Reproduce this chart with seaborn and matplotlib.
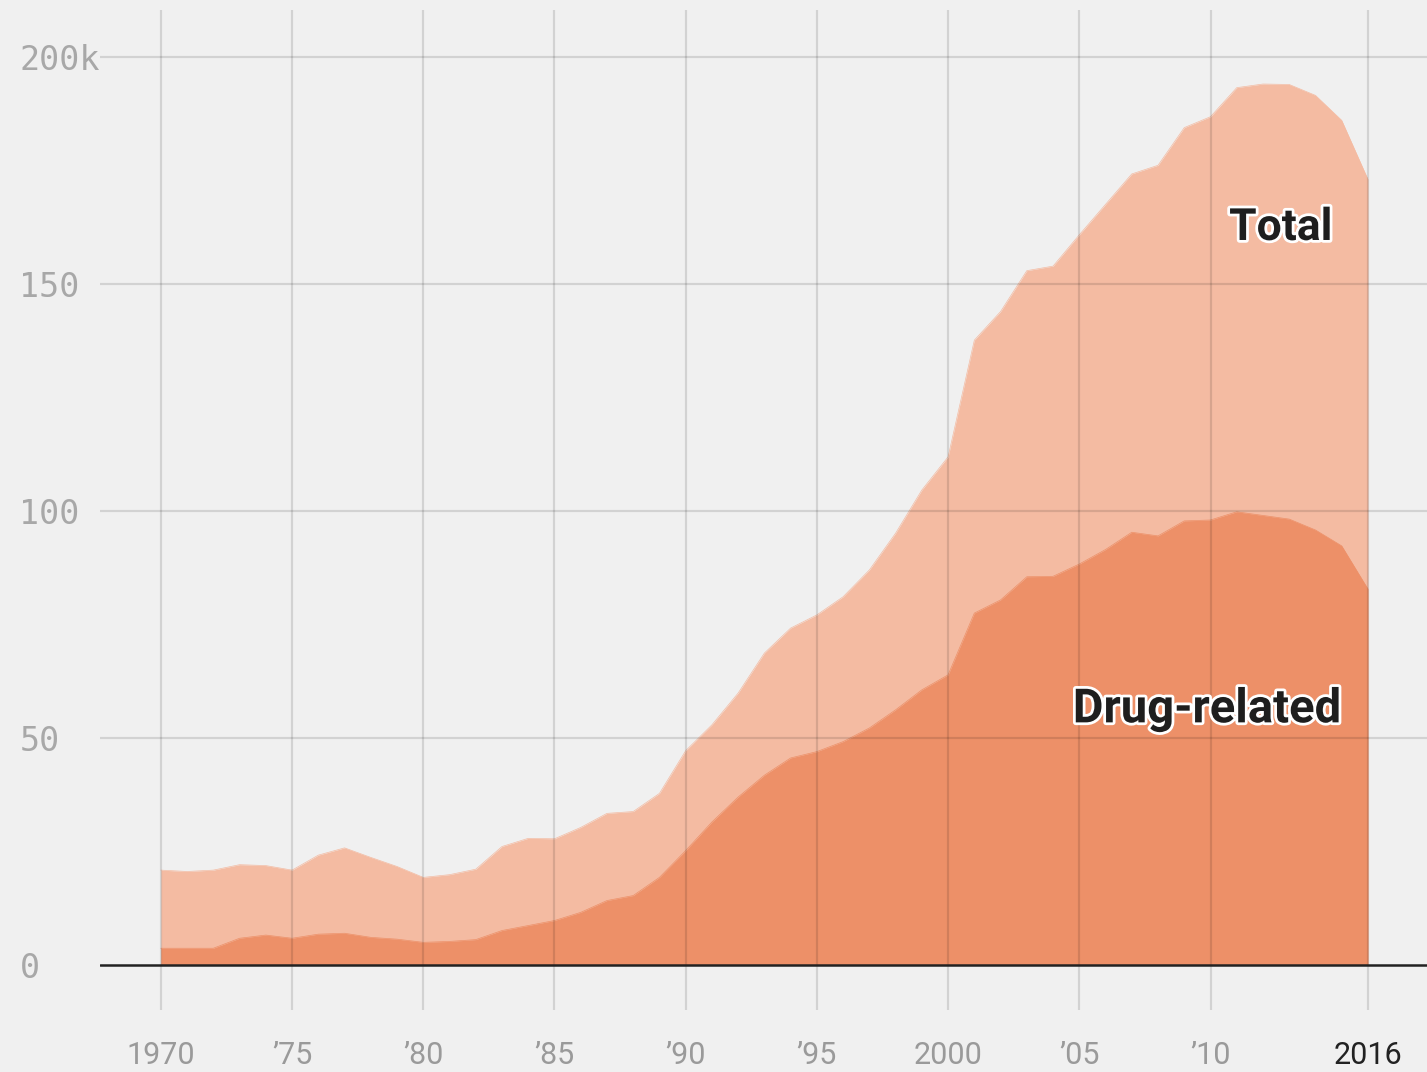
import matplotlib
matplotlib.use("Agg")
import matplotlib.pyplot as plt
import matplotlib.patheffects as pe
import seaborn as sns
import pandas as pd

years = list(range(1970, 2017))
total = [20.9, 20.6, 20.9, 22.1, 21.9, 20.9, 24.2, 25.8, 23.7, 21.7,
         19.3, 19.9, 21.1, 26.1, 27.9, 27.8, 30.3, 33.4, 33.8, 37.8,
         47.2, 52.9, 59.9, 68.7, 74.2, 77.1, 81.1, 87.0, 95.1, 104.6,
         111.9, 137.6, 143.9, 152.9, 153.9, 160.8, 167.5, 174.2, 176.1, 184.4,
         186.8, 193.2, 194.0, 193.9, 191.5, 186.0, 173.0]
drug = [3.7, 3.7, 3.7, 5.9, 6.6, 5.9, 6.8, 7.0, 6.1, 5.7,
        5.0, 5.2, 5.6, 7.6, 8.7, 9.8, 11.6, 14.2, 15.3, 19.3,
        25.2, 31.5, 37.0, 41.8, 45.6, 47.0, 49.2, 52.2, 56.2, 60.6,
        63.9, 77.5, 80.4, 85.5, 85.6, 88.3, 91.5, 95.3, 94.5, 97.8,
        98.0, 99.8, 99.0, 98.2, 95.8, 92.3, 82.8]

xticks = [1970, 1975, 1980, 1985, 1990, 1995, 2000, 2005, 2010, 2016]
xticklabels = ["1970", "\u201975", "\u201980", "\u201985", "\u201990", "\u201995",
               "2000", "\u201905", "\u201910", "2016"]
yticks = [0, 50, 100, 150, 200]
yticklabels = ["0", "50", "100", "150", "200k"]

BG = "#f0f0f0"
C_TOTAL = "#f4bba2"
C_DRUG = "#ed9068"

sns.set_theme(style="white")
plt.rcParams["font.family"] = ["DejaVu Sans"]

df = pd.DataFrame({"year": years, "total": total, "drug": drug})

fig = plt.figure(figsize=(14.27, 10.72), dpi=100, facecolor=BG)
ax = fig.add_axes([100 / 1427, 62 / 1072, 1327 / 1427, 1000 / 1072])
ax.set_facecolor(BG)

ax.fill_between(df["year"], 0, df["total"], color=C_TOTAL, lw=0, zorder=1)
ax.fill_between(df["year"], 0, df["drug"], color=C_DRUG, lw=0, zorder=2)
sns.lineplot(data=df, x="year", y="total", color=C_TOTAL, lw=0.5, ax=ax, zorder=1)
sns.lineplot(data=df, x="year", y="drug", color=C_DRUG, lw=0.5, ax=ax, zorder=2)

ax.set_xlim(1967.68, 2018.25)
ax.set_ylim(-9.9, 210.3)

# grid on top of areas
for yv in yticks[1:]:
    ax.axhline(yv, color="black", alpha=0.12, lw=1.6, zorder=3)
for xv in xticks:
    ax.axvline(xv, color="black", alpha=0.12, lw=1.6, zorder=3)
ax.axhline(0, color="#222222", lw=1.8, zorder=4)

for s in ax.spines.values():
    s.set_visible(False)

ax.set_xticks(xticks)
ax.set_xticklabels(xticklabels)
ax.set_yticks(yticks)
ax.set_yticklabels(yticklabels)
ax.tick_params(axis="both", length=0)
ax.tick_params(axis="x", pad=22)
ax.tick_params(axis="y", pad=58)
for lab in ax.get_xticklabels():
    lab.set_family(["Liberation Sans Narrow", "Roboto", "DejaVu Sans"])
    lab.set_fontsize(22)
    lab.set_color("#9a9a9a")
lab = ax.get_xticklabels()[-1]
lab.set_color("#222222")
for lab in ax.get_yticklabels():
    lab.set_family(["DejaVu Sans Mono"])
    lab.set_fontsize(24)
    lab.set_color("#a8a8a8")
    lab.set_horizontalalignment("left")
ax.set_xlabel("")
ax.set_ylabel("")

stroke = [pe.withStroke(linewidth=4, foreground="white")]
ax.text(2012.68, 162.3, "Total", ha="center", va="center", fontsize=32,
        fontweight="bold", family=["Roboto", "DejaVu Sans"], color="#1e1e1e",
        path_effects=stroke, zorder=5)
ax.text(2009.86, 56.3, "Drug-related", ha="center", va="center", fontsize=34,
        fontweight="bold", family=["Roboto", "DejaVu Sans"], color="#1e1e1e",
        path_effects=stroke, zorder=5)

fig.savefig("out.png", dpi=100, facecolor=BG)
